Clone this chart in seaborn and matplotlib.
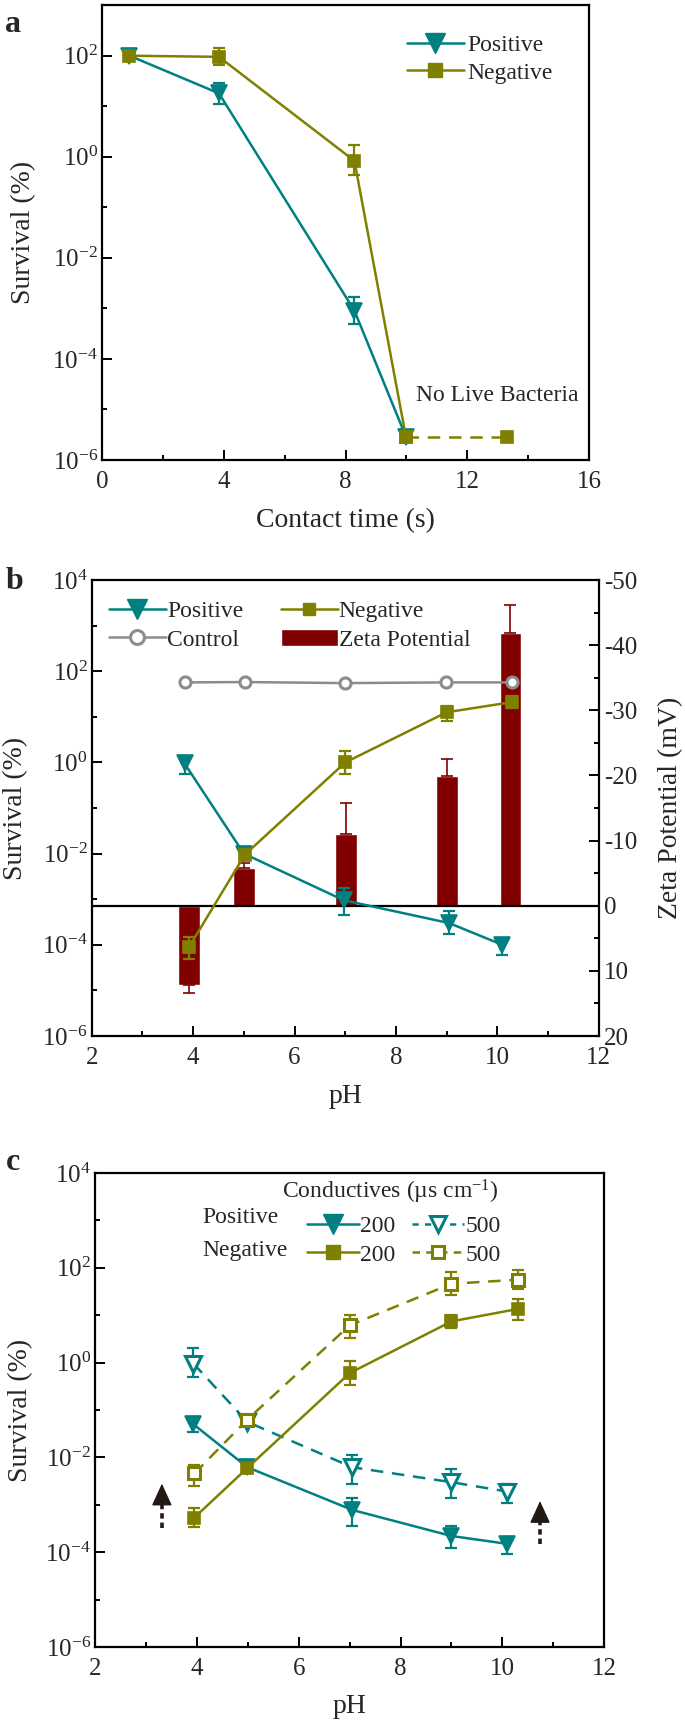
import matplotlib
matplotlib.use("Agg")
import matplotlib.pyplot as plt
import numpy as np
import seaborn as sns
from matplotlib.lines import Line2D
from matplotlib.patches import Patch
from matplotlib.ticker import FixedLocator, NullFormatter, LogFormatterSciNotation

# ---- panel a: survival vs contact time ----
time_pos = [0.9, 3.84, 8.29, 9.98]
surv_pos = [100, 18, 9e-4, 2.9e-6]
pos_a_lo = [np.nan, 11, 4.9e-4, np.nan]
pos_a_hi = [np.nan, 29, 1.7e-3, np.nan]
time_neg = [0.9, 3.84, 8.29, 9.98]
surv_neg = [100, 95, 0.83, 2.9e-6]
neg_a_lo = [np.nan, 65, 0.43, np.nan]
neg_a_hi = [np.nan, 145, 1.7, np.nan]
time_dead = [9.98, 13.3]
surv_dead = [2.9e-6, 2.9e-6]

# ---- panel b: survival and zeta potential vs pH ----
ph_ctrl = [3.83, 5.02, 7.0, 8.98, 10.29]
surv_ctrl = [57, 58, 55, 57, 57]
ph_pos_b = [3.83, 5.0, 6.97, 9.05, 10.1]
surv_pos_b = [0.95, 0.01, 9.5e-4, 3e-4, 1e-4]
pos_b_lo = [0.55, np.nan, 4.4e-4, 1.7e-4, 6e-5]
pos_b_hi = [1.2, np.nan, 1.8e-3, 5.5e-4, 1.3e-4]
ph_neg_b = [3.92, 5.02, 7.0, 9.0, 10.28]
surv_neg_b = [9e-5, 0.0095, 1.0, 12.6, 21]
neg_b_lo = [5e-5, np.nan, 0.55, 8, 16]
neg_b_hi = [1.5e-4, np.nan, 1.8, 17, 29]
ph_zeta = [3.91, 5.0, 7.02, 9.01, 10.26]
zeta = [12.2, -5.8, -11.0, -19.9, -41.8]
zeta_err = [1.2, 0.8, 4.8, 2.7, 4.4]

# ---- panel c: survival vs pH at two conductivities ----
ph_c = [3.93, 4.99, 7.05, 9.0, 10.1]
surv_pos200 = [0.05, 6.2e-3, 7.8e-4, 2.2e-4, 1.5e-4]
pos200_lo = [0.035, np.nan, 3.6e-4, 1.2e-4, 9e-5]
pos200_hi = [0.07, np.nan, 1.4e-3, 3.5e-4, 1.9e-4]
surv_pos500 = [0.95, 0.056, 6.2e-3, 3e-3, 1.9e-3]
pos500_lo = [0.5, np.nan, 2.8e-3, 1.4e-3, 1.1e-3]
pos500_hi = [2.0, np.nan, 1.15e-2, 5.6e-3, 2.8e-3]
ph_c_neg = [3.95, 4.99, 7.0, 9.0, 10.3]
surv_neg200 = [5.4e-4, 6e-3, 0.6, 7.4, 13.5]
neg200_lo = [3.4e-4, np.nan, 0.34, 5.3, 8]
neg200_hi = [8.4e-4, np.nan, 1.1, 10, 22]
surv_neg500 = [4.6e-3, 0.063, 6.1, 46, 56]
neg500_lo = [2.5e-3, np.nan, 3.3, 27, 35]
neg500_hi = [7e-3, np.nan, 10, 80, 90]
arrow_x = [3.31, 10.74]
arrow_base = [3.2e-4, 1.5e-4]
arrow_tip = [2.8e-3, 1.2e-3]

TEAL = "#008080"
OLIVE = "#808000"
WINE = "#800000"
GREY = "#8c8c8c"
ARROW = "#231815"
DASH = (0, (5, 3.5))

sns.set_theme(style="ticks")
plt.rcParams["font.family"] = ["Liberation Serif", "DejaVu Serif"]
plt.rcParams["mathtext.fontset"] = "custom"
plt.rcParams["mathtext.rm"] = "Liberation Serif"
plt.rcParams["mathtext.it"] = "Liberation Serif:italic"
plt.rcParams["axes.unicode_minus"] = False

TICK_FS = 18
LABEL_FS = 20
LEG_FS = 17


def style_axes(ax, xmajor, xminor):
    for sp in ax.spines.values():
        sp.set_linewidth(1.6)
        sp.set_color("black")
        sp.set_visible(True)
    ax.xaxis.set_major_locator(FixedLocator(xmajor))
    ax.xaxis.set_minor_locator(FixedLocator(xminor))
    ax.tick_params(which="both", direction="in", top=False, right=False,
                   width=1.4, labelsize=TICK_FS, color="black")
    ax.tick_params(which="major", length=7)
    ax.tick_params(which="minor", length=3.5)
    ax.tick_params(axis="x", which="major", pad=8)
    ax.tick_params(axis="y", which="major", pad=3)
    ax.grid(False)


def log_y(ax, lo, hi):
    ax.set_yscale("log")
    ax.set_ylim(10.0 ** lo, 10.0 ** hi)
    ax.yaxis.set_major_locator(FixedLocator([10.0 ** e for e in range(lo, hi + 1, 2)]))
    ax.yaxis.set_major_formatter(LogFormatterSciNotation())
    ax.yaxis.set_minor_locator(FixedLocator([10.0 ** e for e in range(lo + 1, hi + 1, 2)]))
    ax.yaxis.set_minor_formatter(NullFormatter())


def errs(y, lo, hi):
    y = np.asarray(y, float)
    return [y - np.asarray(lo, float), np.asarray(hi, float) - y]


def series(ax, x, y, color, marker, ms, lo=None, hi=None, dashed=False, open_=False):
    sns.lineplot(x=x, y=y, ax=ax, color=color, linewidth=1.8,
                 linestyle=DASH if dashed else "-",
                 marker=marker, markersize=ms, markeredgecolor=color,
                 markerfacecolor="white" if open_ else color,
                 markeredgewidth=2.2 if open_ else 1.2, legend=False, zorder=4)
    if lo is not None:
        ax.errorbar(x, y, yerr=errs(y, lo, hi), fmt="none", ecolor=color,
                    elinewidth=1.6, capsize=4.5, capthick=1.6, zorder=3)


fig = plt.figure(figsize=(6.85, 17.29), dpi=100)

# ================= panel a =================
ax_a = fig.add_axes([0.149, 0.734, 0.711, 0.263])
series(ax_a, time_pos, surv_pos, TEAL, "v", 11, pos_a_lo, pos_a_hi)
series(ax_a, time_neg, surv_neg, OLIVE, "s", 9, neg_a_lo, neg_a_hi)
series(ax_a, time_dead, surv_dead, OLIVE, "s", 9, dashed=True)
ax_a.set_xlim(0, 16)
log_y(ax_a, -6, 3)
style_axes(ax_a, [0, 4, 8, 12, 16], [2, 6, 10, 14])
ax_a.set_xlabel("Contact time (s)", fontsize=LABEL_FS)
ax_a.set_ylabel("Survival (%)", fontsize=LABEL_FS)
ax_a.xaxis.set_label_coords(0.5, -0.105)
ax_a.yaxis.set_label_coords(-0.135, 0.5)
ax_a.text(12.98, 1.9e-5, "No Live Bacteria", fontsize=LEG_FS, ha="center", va="center")
leg_a = [Line2D([], [], color=TEAL, lw=1.8, marker="v", ms=14, mec=TEAL),
         Line2D([], [], color=OLIVE, lw=1.8, marker="s", ms=10, mec=OLIVE)]
ax_a.legend(leg_a, ["Positive", "Negative"], loc="upper left", bbox_to_anchor=(0.626, 0.935),
            frameon=False, fontsize=LEG_FS, handlelength=2.4, handletextpad=0.15,
            labelspacing=0.25, borderaxespad=0, borderpad=0)

# ================= panel b =================
ax_b = fig.add_axes([0.134, 0.4008, 0.740, 0.2637])
ax_z = ax_b.twinx()
ax_b.set_zorder(ax_z.get_zorder() + 1)
ax_b.patch.set_visible(False)

ax_z.bar(ph_zeta, zeta, width=0.43, color=WINE, zorder=2)
zeta_arr = np.asarray(zeta)
zerr = np.asarray(zeta_err)
ax_z.errorbar(ph_zeta, zeta,
              yerr=[np.where(zeta_arr < 0, zerr, 0), np.where(zeta_arr > 0, zerr, 0)],
              fmt="none", ecolor=WINE, elinewidth=1.2, capsize=4, capthick=1.2, zorder=2)
ax_z.axhline(0, color="black", lw=1.6, zorder=3)
ax_z.set_ylim(20, -50)
ax_z.yaxis.set_major_locator(FixedLocator(range(-50, 21, 10)))
ax_z.yaxis.set_minor_locator(FixedLocator(range(-45, 20, 10)))
ax_z.tick_params(which="both", direction="in", width=1.4, labelsize=TICK_FS, color="black")
ax_z.tick_params(which="major", length=7, pad=4)
ax_z.tick_params(which="minor", length=3.5)
ax_z.set_ylabel("Zeta Potential (mV)", fontsize=LABEL_FS)
ax_z.yaxis.set_label_coords(1.118, 0.5)
ax_z.grid(False)

series(ax_b, ph_ctrl, surv_ctrl, GREY, "o", 8, open_=True)
series(ax_b, ph_pos_b, surv_pos_b, TEAL, "v", 11, pos_b_lo, pos_b_hi)
series(ax_b, ph_neg_b, surv_neg_b, OLIVE, "s", 9, neg_b_lo, neg_b_hi)
ax_b.set_xlim(2, 12)
log_y(ax_b, -6, 4)
style_axes(ax_b, [2, 4, 6, 8, 10, 12], [3, 5, 7, 9, 11])
ax_b.set_xlabel("pH", fontsize=LABEL_FS)
ax_b.set_ylabel("Survival (%)", fontsize=LABEL_FS)
ax_b.xaxis.set_label_coords(0.5, -0.105)
ax_b.yaxis.set_label_coords(-0.125, 0.5)
leg_b = [Line2D([], [], color=TEAL, lw=1.8, marker="v", ms=14, mec=TEAL),
         Line2D([], [], color=GREY, lw=1.8, marker="o", ms=10, mec=GREY, mfc="white", mew=2.2),
         Line2D([], [], color=OLIVE, lw=1.8, marker="s", ms=9, mec=OLIVE),
         Patch(facecolor=WINE)]
ax_b.legend(leg_b, ["Positive", "Control", "Negative", "Zeta Potential"], ncol=2,
            loc="upper left", bbox_to_anchor=(0.034, 0.955), frameon=False, fontsize=LEG_FS,
            handlelength=2.4, handletextpad=0.05, labelspacing=0.3, columnspacing=1.6,
            borderaxespad=0, borderpad=0)

# ================= panel c =================
ax_c = fig.add_axes([0.139, 0.0474, 0.743, 0.2742])
series(ax_c, ph_c, surv_pos500, TEAL, "v", 11, pos500_lo, pos500_hi, dashed=True, open_=True)
series(ax_c, ph_c_neg, surv_neg500, OLIVE, "s", 9, neg500_lo, neg500_hi, dashed=True, open_=True)
series(ax_c, ph_c, surv_pos200, TEAL, "v", 11, pos200_lo, pos200_hi)
series(ax_c, ph_c_neg, surv_neg200, OLIVE, "s", 9, neg200_lo, neg200_hi)
# dashed shaft, solid head (head is ~0.3 decade tall)
for xa, yb, yt in zip(arrow_x, arrow_base, arrow_tip):
    y_head = yt * 10 ** -0.3
    ax_c.plot([xa, xa], [yb, y_head], color=ARROW, lw=2.6, linestyle=(0, (1.5, 1.1)),
              solid_capstyle="butt", dash_capstyle="butt")
    ax_c.annotate("", xy=(xa, yt), xytext=(xa, y_head),
                  arrowprops=dict(arrowstyle="-|>,head_width=0.32,head_length=0.7",
                                  mutation_scale=20, color=ARROW, lw=1,
                                  shrinkA=0, shrinkB=0))
ax_c.set_xlim(2, 12)
log_y(ax_c, -6, 4)
style_axes(ax_c, [2, 4, 6, 8, 10, 12], [3, 5, 7, 9, 11])
ax_c.set_xlabel("pH", fontsize=LABEL_FS)
ax_c.set_ylabel("Survival (%)", fontsize=LABEL_FS)
ax_c.xaxis.set_label_coords(0.5, -0.1)
ax_c.yaxis.set_label_coords(-0.122, 0.5)
leg_c = [Line2D([], [], color=TEAL, lw=1.8, marker="v", ms=14, mec=TEAL),
         Line2D([], [], color=OLIVE, lw=1.8, marker="s", ms=10, mec=OLIVE),
         Line2D([], [], color=TEAL, lw=1.8, ls=(0, (2.5, 2.5)), marker="v", ms=12, mec=TEAL,
                mfc="white", mew=2.2),
         Line2D([], [], color=OLIVE, lw=1.8, ls=(0, (3, 2.5)), marker="s", ms=9, mec=OLIVE,
                mfc="white", mew=2.2)]
ax_c.legend(leg_c, ["200", "200", "500", "500"], ncol=2, loc="upper left",
            bbox_to_anchor=(0.4165, 0.91), frameon=False, fontsize=LEG_FS,
            handlelength=2.2, handletextpad=0.05, labelspacing=0.3, columnspacing=0.7,
            borderaxespad=0, borderpad=0)
ax_c.text(0.58, 0.96, "Conductives (µs cm$^{-1}$)", transform=ax_c.transAxes,
          fontsize=LEG_FS, ha="center", va="center")
ax_c.text(0.21, 0.906, "Positive", transform=ax_c.transAxes, fontsize=LEG_FS, va="center")
ax_c.text(0.21, 0.836, "Negative", transform=ax_c.transAxes, fontsize=LEG_FS, va="center")

# panel letters
for letter, ypx in [("a", 10), ("b", 567), ("c", 1148)]:
    fig.text(0.008, 1 - ypx / 1729, letter, fontsize=23, fontweight="bold", va="top")

fig.savefig("out.png", dpi=100)
